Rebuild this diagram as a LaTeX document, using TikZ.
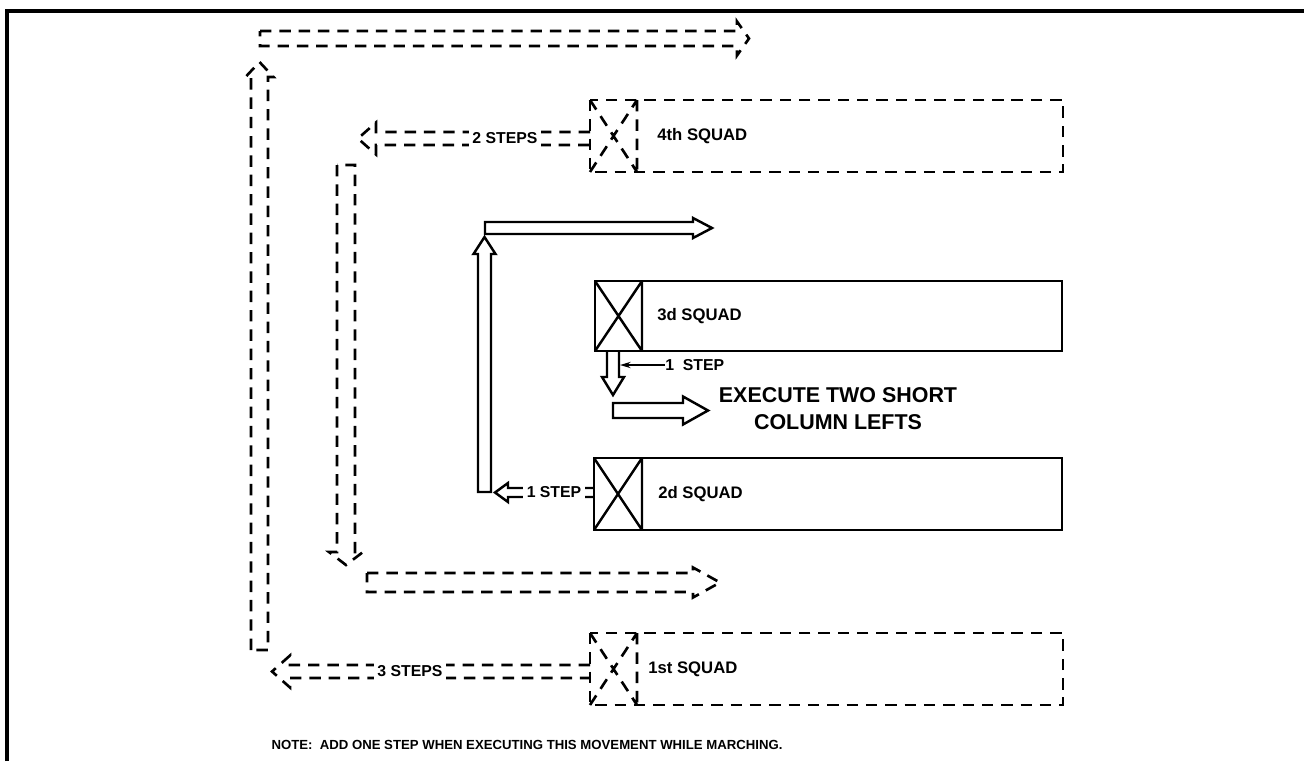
\documentclass[tikz,border=0pt]{standalone}
\usepackage{fontspec}
\setmainfont{Liberation Sans}
\usetikzlibrary{arrows.meta}
\newcommand{\harrow}[6]{(#1,{#4-#5}) -- (#2,{#4-#5}) -- (#2,{#4-#6}) -- (#3,#4) -- (#2,{#4+#6}) -- (#2,{#4+#5}) -- (#1,{#4+#5})}
\newcommand{\varrow}[6]{({#4-#5},#1) -- ({#4-#5},#2) -- ({#4-#6},#2) -- (#4,#3) -- ({#4+#6},#2) -- ({#4+#5},#2) -- ({#4+#5},#1)}
\tikzset{
  dashline/.style={line width=1.5pt,dash pattern=on 6.5pt off 4.5pt},
  solidline/.style={line width=1.4pt},
  squadtext/.style={anchor=west,inner sep=0pt,font=\bfseries\fontsize{9.5}{11}\selectfont},
  steptext/.style={fill=white,inner xsep=2pt,inner ysep=2pt,font=\bfseries\fontsize{9}{10}\selectfont},
  notetext/.style={font=\bfseries\fontsize{7.5}{9}\selectfont}
}
\begin{document}
\begin{tikzpicture}[x=0.02cm,y=-0.02cm]
\useasboundingbox (0,0) rectangle (1304,761);
\draw[line width=2.4pt] (7,761) -- (7,11) -- (1304,11);
\draw[dashline] \harrow{260}{737}{749}{38.5}{7.5}{17} -- cycle;
\draw[dashline] \varrow{650}{77}{62}{259.5}{8.5}{14} -- cycle;
\draw[dashline] (590,100) rectangle (1063,172);
\draw[dashline] (637,100) -- (637,172) (590,100) -- (637,172) (590,172) -- (637,100);
\node[squadtext] (sq4) at (657,136) {4th SQUAD};
\draw[dashline] \harrow{590}{376}{358}{138.5}{6.5}{16};
\node[steptext] (twosteps) at (505,138.5) {2 STEPS};
\draw[dashline] \varrow{165}{552}{565}{346}{9}{17} -- cycle;
\draw[dashline] \harrow{367}{693}{720}{582.5}{9.5}{15} -- cycle;
\draw[solidline] \varrow{492}{254}{237}{484.5}{6.5}{11} -- cycle;
\draw[solidline] \harrow{485}{693}{712}{228}{6}{10} -- cycle;
\draw[solidline] (595,281) rectangle (1062,351);
\draw[solidline] (642,281) -- (642,351) (595,281) -- (642,351) (595,351) -- (642,281);
\node[squadtext] (sq3) at (657,316) {3d SQUAD};
\draw[solidline] \varrow{351}{377}{395}{613}{6}{11};
\coordinate (downarr) at (620,365);
\node[squadtext,font=\bfseries\fontsize{9}{10}\selectfont] (onestepup) at (665,365) {1\ \ STEP};
\draw[line width=1pt,-{Stealth[length=6pt,width=3.5pt]}] (onestepup.west) -- (downarr);
\draw[solidline] \harrow{613}{683}{708}{410.5}{7.5}{14} -- cycle;
\node[align=center,font=\bfseries\fontsize{12.2}{15.3}\selectfont] (execute) at (838,409) {EXECUTE TWO SHORT\\COLUMN LEFTS};
\draw[solidline] (594,458) rectangle (1062,530);
\draw[solidline] (642,458) -- (642,530) (594,458) -- (642,530) (594,530) -- (642,458);
\node[squadtext] (sq2) at (658,494) {2d SQUAD};
\draw[solidline] \harrow{594}{508}{495}{492.5}{4.5}{9.5};
\node[steptext] (onesteplo) at (554,492.5) {1 STEP};
\draw[dashline] (590,633) rectangle (1063,705);
\draw[dashline] (637,633) -- (637,705) (590,633) -- (637,705) (590,705) -- (637,633);
\node[squadtext] (sq1) at (648,669) {1st SQUAD};
\draw[dashline] \harrow{590}{290}{272}{671.5}{6.5}{16};
\node[steptext] (threesteps) at (410,671.5) {3 STEPS};
\node[notetext] (note) at (527,745) {NOTE:\ \ ADD ONE STEP WHEN EXECUTING THIS MOVEMENT WHILE MARCHING.};
\end{tikzpicture}
\end{document}
